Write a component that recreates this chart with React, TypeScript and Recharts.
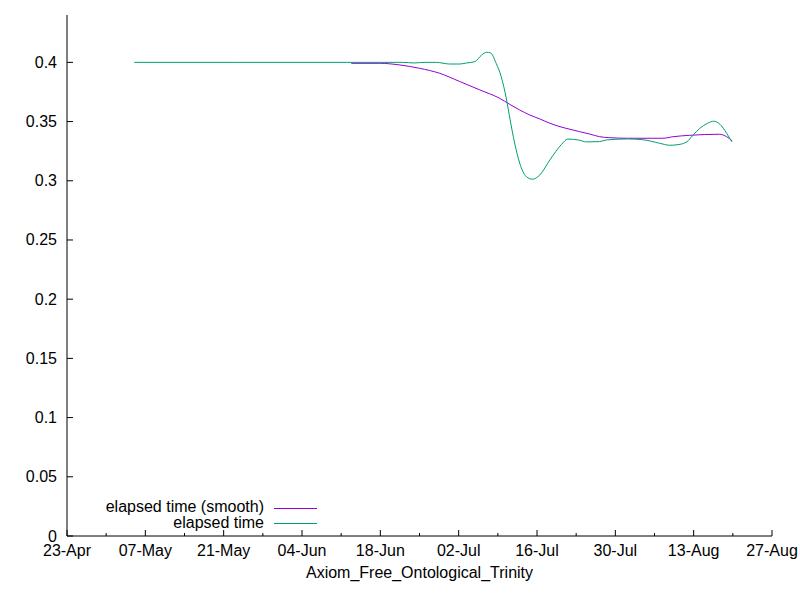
import React from 'react';
import { LineChart, Line, XAxis, YAxis, Legend } from 'recharts';

// x values are days counted from 23-Apr
const xTickDays = [0, 7, 14, 21, 28, 35, 42, 49, 56, 63, 70, 77, 84, 91, 98, 105, 112, 119, 126];
const xTickLabels = ['23-Apr', '07-May', '21-May', '04-Jun', '18-Jun', '02-Jul', '16-Jul', '30-Jul', '13-Aug', '27-Aug'];
const yTicks = [0, 0.05, 0.1, 0.15, 0.2, 0.25, 0.3, 0.35, 0.4];
const yTickLabels = ['0', '0.05', '0.1', '0.15', '0.2', '0.25', '0.3', '0.35', '0.4'];
const legendOrder = ['elapsed time (smooth)', 'elapsed time'];

const rawDays = [12, 30, 50, 60, 62, 64, 66, 68.4, 70.2, 71.4, 72.9, 74.1, 75.0, 75.7, 76.7, 77.6, 78.5, 79.2, 80.0, 80.9, 82.1, 83.2, 84.5, 86.3, 88.4, 89.5, 91.6, 92.8, 95.2, 96.4, 100.2, 102.9, 105.9, 107.7, 109.2, 110.8, 111.8, 113.1, 114.5, 115.6, 116.7, 117.9, 118.8];
const rawValues = [0.4, 0.4, 0.4, 0.4, 0.3995, 0.4, 0.4, 0.3986, 0.3986, 0.3995, 0.4006, 0.4062, 0.4085, 0.408, 0.3992, 0.3879, 0.3699, 0.3514, 0.3319, 0.315, 0.3035, 0.3013, 0.3049, 0.3176, 0.3308, 0.3352, 0.3343, 0.3328, 0.3331, 0.3345, 0.3353, 0.3347, 0.3317, 0.33, 0.3305, 0.333, 0.3381, 0.3443, 0.3486, 0.3503, 0.3477, 0.3401, 0.333];

const smoothDays = [50.8, 55.9, 59.5, 63.0, 66.6, 70.2, 73.8, 77.3, 79.1, 80.9, 82.7, 84.5, 86.3, 88.1, 89.9, 91.6, 93.4, 95.2, 97.0, 100.2, 106.5, 108.3, 111.3, 116.6, 117.9, 118.9];
const smoothValues = [0.3992, 0.3992, 0.3978, 0.395, 0.3908, 0.3838, 0.3767, 0.3697, 0.3646, 0.3598, 0.3556, 0.3522, 0.3486, 0.3457, 0.3435, 0.3415, 0.3395, 0.3372, 0.3364, 0.3359, 0.3359, 0.3372, 0.3384, 0.3393, 0.3372, 0.3336];

const rawData = rawDays.map((d, i) => ({ day: d, value: rawValues[i] }));
const smoothData = smoothDays.map((d, i) => ({ day: d, value: smoothValues[i] }));

const FONT = '"Liberation Sans", Arial, sans-serif';
const FS = 16;

const BottomTick = (props: any) => {
  const { x, y, payload } = props;
  const v = payload.value;
  const major = v % 14 === 0;
  return (
    <g>
      <line x1={x} x2={x} y1={y} y2={y - (major ? 6 : 3)} stroke="#000" strokeWidth={1} />
      {major && (
        <text x={x} y={y + 20} textAnchor="middle" fontFamily={FONT} fontSize={FS} fill="#000">
          {xTickLabels[v / 14]}
        </text>
      )}
    </g>
  );
};

const TopTick = (props: any) => {
  const { x, y, payload } = props;
  const major = payload.value % 14 === 0;
  return <line x1={x} x2={x} y1={y} y2={y + (major ? 6 : 3)} stroke="#000" strokeWidth={1} />;
};

const LeftTick = (props: any) => {
  const { x, y, index } = props;
  return (
    <g>
      <line x1={x} x2={x + 6} y1={y} y2={y} stroke="#000" strokeWidth={1} />
      <text x={x - 10} y={y + 5.5} textAnchor="end" fontFamily={FONT} fontSize={FS} fill="#000">
        {yTickLabels[index]}
      </text>
    </g>
  );
};

const RightTick = (props: any) => {
  const { x, y } = props;
  return <line x1={x} x2={x - 6} y1={y} y2={y} stroke="#000" strokeWidth={1} />;
};

const LegendContent = (props: any) => {
  const items = [...(props.payload || [])].sort(
    (a: any, b: any) => legendOrder.indexOf(a.value) - legendOrder.indexOf(b.value)
  );
  return (
    <div style={{ position: 'relative', width: 400, height: 40, fontFamily: FONT, fontSize: FS }}>
      {items.map((p: any, i: number) => (
        <div key={i} style={{ position: 'absolute', left: 0, top: i * 15.5, height: 15.5, width: 330 }}>
          <span style={{ position: 'absolute', right: 330 - 264, top: 0, lineHeight: '15.5px', whiteSpace: 'nowrap', color: '#000' }}>
            {p.value}
          </span>
          <div style={{ position: 'absolute', left: 274, top: 8.5, width: 43, height: 0, borderTop: `1px solid ${p.color}` }} />
        </div>
      ))}
    </div>
  );
};

export default function App() {
  return (
    <div style={{ position: 'absolute', left: 0, top: 0, width: 800, height: 600, background: '#fff' }}>
      <LineChart width={800} height={600} margin={{ top: 15, right: 28, left: 0, bottom: 0 }}>
        <XAxis
          xAxisId="bottom"
          dataKey="day"
          type="number"
          domain={[0, 126]}
          ticks={xTickDays}
          interval={0}
          height={64}
          tickSize={0}
          tickMargin={0}
          tickLine={false}
          tick={<BottomTick />}
          axisLine={{ stroke: '#000' }}
          allowDataOverflow
          label={{ value: 'Axiom_Free_Ontological_Trinity', position: 'insideBottom', offset: 22, fontFamily: FONT, fontSize: FS, fill: '#000' }}
        />
        <XAxis
          xAxisId="top"
          orientation="top"
          dataKey="day"
          type="number"
          domain={[0, 126]}
          ticks={xTickDays}
          interval={0}
          height={0}
          tickSize={0}
          tickMargin={0}
          tickLine={false}
          tick={<TopTick />}
          axisLine={{ stroke: '#000' }}
          allowDataOverflow
        />
        <YAxis
          yAxisId="left"
          type="number"
          domain={[0, 0.44]}
          ticks={yTicks}
          interval={0}
          width={67}
          tickSize={0}
          tickMargin={0}
          tickLine={false}
          tick={<LeftTick />}
          axisLine={{ stroke: '#000' }}
          allowDataOverflow
        />
        <YAxis
          yAxisId="right"
          orientation="right"
          type="number"
          domain={[0, 0.44]}
          ticks={yTicks}
          interval={0}
          width={0}
          tickSize={0}
          tickMargin={0}
          tickLine={false}
          tick={<RightTick />}
          axisLine={{ stroke: '#000' }}
          allowDataOverflow
        />
        <Legend
          layout="horizontal"
          verticalAlign="middle"
          align="center"
          content={<LegendContent />}
          wrapperStyle={{ position: 'absolute', left: 0, top: 499, width: 400, height: 40 }}
        />
        <Line
          xAxisId="bottom"
          yAxisId="left"
          data={smoothData}
          dataKey="value"
          name="elapsed time (smooth)"
          type="monotone"
          stroke="#9400d3"
          strokeWidth={1}
          dot={false}
          isAnimationActive={false}
        />
        <Line
          xAxisId="bottom"
          yAxisId="left"
          data={rawData}
          dataKey="value"
          name="elapsed time"
          type="monotone"
          stroke="#009e73"
          strokeWidth={1}
          dot={false}
          isAnimationActive={false}
        />
      </LineChart>
    </div>
  );
}
